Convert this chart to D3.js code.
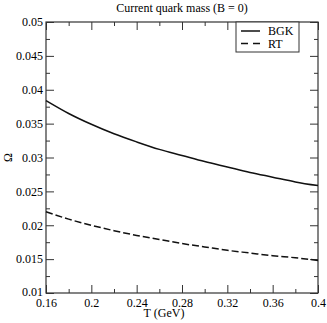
<!DOCTYPE html>
<html lang="en">
<head>
  <meta charset="UTF-8">
  <title>Current quark mass</title>
  <style>
    body { margin: 0; background: #fff; }
    svg { display: block; font-family: "Liberation Serif", "DejaVu Serif", serif; }
  </style>
</head>
<body>
  <div id="chart"></div>
  <script src="https://d3js.org/d3.v7.min.js"></script>
  <script>
    // values
    let temps = [0.16, 0.18, 0.20, 0.22, 0.24, 0.26, 0.28, 0.30, 0.32, 0.34, 0.36, 0.38, 0.40]
    let bgk = [0.0384, 0.0365, 0.0349, 0.0335, 0.0323, 0.0312, 0.0303, 0.0294, 0.0286, 0.0278, 0.0271, 0.0264, 0.02585]
    let rt = [0.0220, 0.0209, 0.0200, 0.0192, 0.0185, 0.0179, 0.0173, 0.0168, 0.0163, 0.0159, 0.0155, 0.0152, 0.0148]

    let xTicks = [0.16, 0.2, 0.24, 0.28, 0.32, 0.36, 0.4]
    let xTickLabels = ['0.16', '0.2', '0.24', '0.28', '0.32', '0.36', '0.4']
    let xMinor = [0.18, 0.22, 0.26, 0.30, 0.34, 0.38]
    let yTicks = [0.01, 0.015, 0.02, 0.025, 0.03, 0.035, 0.04, 0.045, 0.05]
    let yTickLabels = ['0.01', '0.015', '0.02', '0.025', '0.03', '0.035', '0.04', '0.045', '0.05']
    let yMinor = [0.0125, 0.0175, 0.0225, 0.0275, 0.0325, 0.0375, 0.0425, 0.0475]

    let W = 327, H = 323
    let m = { left: 46, right: 9, top: 22, bottom: 30 }
    let w = W - m.left - m.right
    let h = H - m.top - m.bottom
    let serif = '"Liberation Serif", "DejaVu Serif", serif'

    let svg = d3.select('#chart').append('svg')
      .attr('width', W)
      .attr('height', H)

    let g = svg.append('g')
      .attr('transform', `translate(${m.left}, ${m.top})`)

    let x = d3.scaleLinear().domain([0.16, 0.4]).range([0, w])
    let y = d3.scaleLinear().domain([0.01, 0.05]).range([h, 0])

    let axisColor = '#333'

    function styleAxis(sel) {
      sel.select('.domain').remove()
      sel.selectAll('.tick line').attr('stroke', axisColor)
      sel.selectAll('.tick text')
        .attr('fill', '#000')
        .style('font-family', serif)
        .style('font-size', '12px')
    }

    // major ticks, pointing inward
    g.append('g')
      .attr('transform', `translate(0, ${h})`)
      .call(d3.axisBottom(x).tickValues(xTicks).tickSize(-8).tickPadding(5)
        .tickFormat((d, i) => xTickLabels[i]))
      .call(styleAxis)
    g.append('g')
      .call(d3.axisTop(x).tickValues(xTicks).tickSize(-8).tickFormat(''))
      .call(styleAxis)
    let yAxisG = g.append('g')
      .call(d3.axisLeft(y).tickValues(yTicks).tickSize(-8).tickPadding(3)
        .tickFormat((d, i) => yTickLabels[i]))
      .call(styleAxis)
    // bottom-left label sits a touch higher so it clears 0.16
    yAxisG.selectAll('.tick text').filter(d => d === 0.01).attr('dy', '0.2em')
    g.append('g')
      .attr('transform', `translate(${w}, 0)`)
      .call(d3.axisRight(y).tickValues(yTicks).tickSize(-8).tickFormat(''))
      .call(styleAxis)

    // minor ticks
    g.append('g')
      .attr('transform', `translate(0, ${h})`)
      .call(d3.axisBottom(x).tickValues(xMinor).tickSize(-4).tickFormat(''))
      .call(styleAxis)
    g.append('g')
      .call(d3.axisTop(x).tickValues(xMinor).tickSize(-4).tickFormat(''))
      .call(styleAxis)
    g.append('g')
      .call(d3.axisLeft(y).tickValues(yMinor).tickSize(-4).tickFormat(''))
      .call(styleAxis)
    g.append('g')
      .attr('transform', `translate(${w}, 0)`)
      .call(d3.axisRight(y).tickValues(yMinor).tickSize(-4).tickFormat(''))
      .call(styleAxis)

    // frame
    g.append('rect')
      .attr('width', w)
      .attr('height', h)
      .attr('fill', 'none')
      .attr('stroke', axisColor)
      .attr('stroke-width', 1.2)

    let line = d3.line()
      .x((d, i) => x(temps[i]))
      .y(d => y(d))
      .curve(d3.curveMonotoneX)

    g.append('path')
      .datum(bgk)
      .attr('d', line)
      .attr('fill', 'none')
      .attr('stroke', '#111')
      .attr('stroke-width', 1.5)

    g.append('path')
      .datum(rt)
      .attr('d', line)
      .attr('fill', 'none')
      .attr('stroke', '#111')
      .attr('stroke-width', 1.5)
      .attr('stroke-dasharray', '7,3')

    // legend
    let lg = g.append('g').attr('transform', `translate(${236 - m.left}, 0)`)
    lg.append('rect')
      .attr('width', 63)
      .attr('height', 30)
      .attr('fill', '#fff')
      .attr('stroke', axisColor)
      .attr('stroke-width', 1)
    let items = [{ name: 'BGK', dash: null }, { name: 'RT', dash: '7,5' }]
    items.forEach((it, i) => {
      let yy = 9 + i * 12.5
      lg.append('line')
        .attr('x1', 5).attr('x2', 24)
        .attr('y1', yy).attr('y2', yy)
        .attr('stroke', '#111')
        .attr('stroke-width', 1.5)
        .attr('stroke-dasharray', it.dash)
      lg.append('text')
        .attr('x', 32)
        .attr('y', yy + 4)
        .attr('font-size', 12)
        .text(it.name)
    })

    // titles
    svg.append('text')
      .attr('x', m.left + w / 2)
      .attr('y', 12)
      .attr('text-anchor', 'middle')
      .attr('font-size', 12)
      .text('Current quark mass (B = 0)')

    svg.append('text')
      .attr('x', 164)
      .attr('y', 317)
      .attr('text-anchor', 'middle')
      .attr('font-size', 12)
      .text('T (GeV)')

    svg.append('text')
      .attr('transform', `translate(12, ${m.top + h / 2}) rotate(-90)`)
      .attr('text-anchor', 'middle')
      .attr('font-size', 12)
      .text('Ω')
  </script>
</body>
</html>
